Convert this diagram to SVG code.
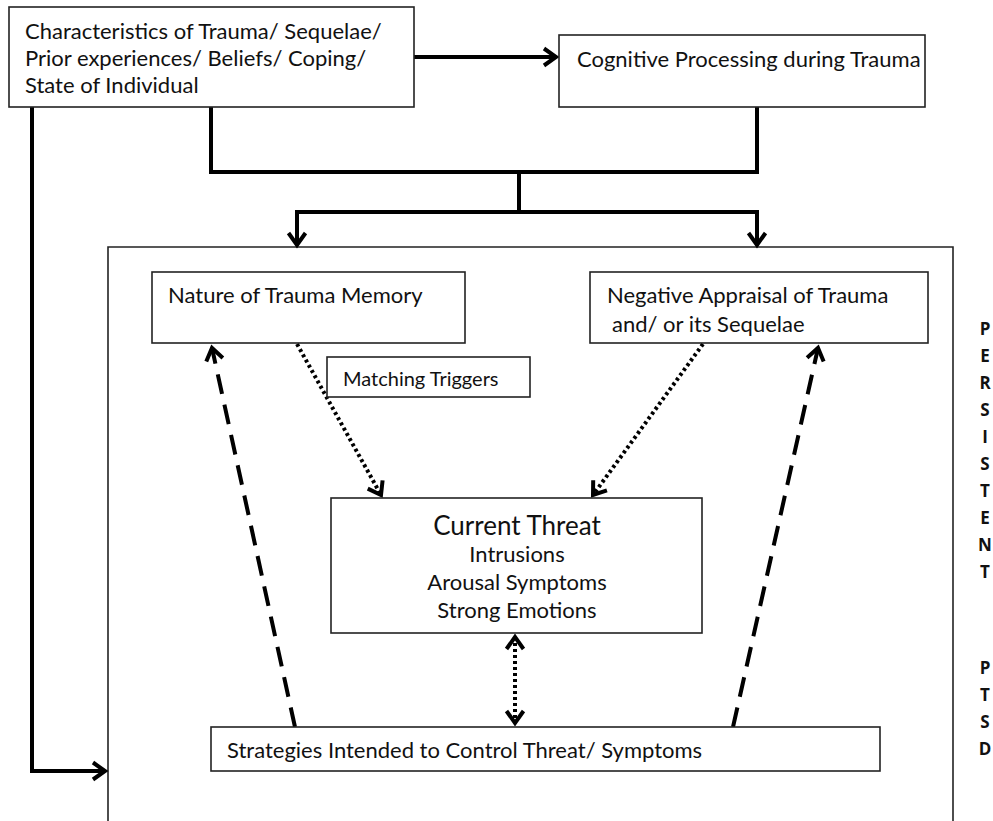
<svg xmlns="http://www.w3.org/2000/svg" width="993" height="821" viewBox="0 0 993 821">
<style>
.box{fill:#fff;stroke:#222;stroke-width:1.6}
.frame{fill:none;stroke:#222;stroke-width:1.6}
.t{font-family:Lato,"Open Sans",sans-serif;font-size:22px;fill:#111}
.big{font-size:26px}
.sm{font-size:20px}
.side{font-family:"Open Sans","Liberation Sans",sans-serif;font-size:17px;font-weight:bold;fill:#111;text-anchor:middle}
.conn{fill:none;stroke:#000;stroke-width:4;stroke-linejoin:miter}
.dot{fill:none;stroke:#000;stroke-width:4;stroke-dasharray:3 3}
.dash{fill:none;stroke:#000;stroke-width:4;stroke-dasharray:20 11}
</style>
<defs>
<marker id="ah" markerUnits="userSpaceOnUse" markerWidth="30" markerHeight="30" viewBox="-15 -15 30 30" refX="0" refY="0" orient="auto-start-reverse">
<path d="M -12 -8.5 L 0 0 L -12 8.5" fill="none" stroke="#000" stroke-width="4" stroke-dasharray="none" stroke-linecap="butt"/>
</marker>
</defs>
<rect x="0" y="0" width="993" height="821" fill="#fff"/>

<g id="frame">
<path class="frame" d="M108,821 L108,247 L953,247 L953,821"/>
</g>

<g id="connectors">
<line class="conn" x1="414" y1="57" x2="556" y2="57" marker-end="url(#ah)"/>
<path class="conn" d="M211,107 L211,172 L757,172 L757,107"/>
<line class="conn" x1="519" y1="172" x2="519" y2="212"/>
<path class="conn" d="M297,245 L297,212 L757,212 L757,245" marker-start="url(#ah)" marker-end="url(#ah)"/>
<path class="conn" d="M32,107 L32,771 L105,771" marker-end="url(#ah)"/>
<line class="dot" x1="297" y1="344" x2="381" y2="495" marker-end="url(#ah)"/>
<line class="dot" x1="703" y1="344" x2="593" y2="495" marker-end="url(#ah)"/>
<line class="dot" x1="515" y1="637" x2="515" y2="723" marker-start="url(#ah)" marker-end="url(#ah)"/>
<line class="dash" x1="295" y1="727" x2="212" y2="348" marker-end="url(#ah)"/>
<line class="dash" x1="733" y1="727" x2="818" y2="348" marker-end="url(#ah)"/>
</g>

<g id="node-characteristics">
<rect class="box" x="9" y="7" width="405" height="100"/>
<text class="t" x="25" y="39">Characteristics of Trauma/ Sequelae/</text>
<text class="t" x="25" y="66">Prior experiences/ Beliefs/ Coping/</text>
<text class="t" x="25" y="93">State of Individual</text>
</g>

<g id="node-cognitive">
<rect class="box" x="559" y="35" width="366" height="72"/>
<text class="t" x="577" y="67">Cognitive Processing during Trauma</text>
</g>

<g id="node-nature">
<rect class="box" x="152" y="272" width="313" height="71"/>
<text class="t" x="168" y="303">Nature of Trauma Memory</text>
</g>

<g id="node-negative">
<rect class="box" x="590" y="272" width="338" height="71"/>
<text class="t" x="607" y="303">Negative Appraisal of Trauma</text>
<text class="t" x="612" y="332">and/ or its Sequelae</text>
</g>

<g id="node-matching">
<rect class="box" x="327" y="357" width="203" height="40"/>
<text class="t sm" x="343" y="386">Matching Triggers</text>
</g>

<g id="node-current">
<rect class="box" x="331" y="498" width="371" height="135"/>
<text class="t big" x="517" y="535" text-anchor="middle">Current Threat</text>
<text class="t" x="517" y="562" text-anchor="middle">Intrusions</text>
<text class="t" x="517" y="590" text-anchor="middle">Arousal Symptoms</text>
<text class="t" x="517" y="618" text-anchor="middle">Strong Emotions</text>
</g>

<g id="node-strategies">
<rect class="box" x="211" y="727" width="669" height="44"/>
<text class="t" x="227" y="758">Strategies Intended to Control Threat/ Symptoms</text>
</g>

<g id="label-persistent">
<text class="side"><tspan x="985" y="335">P</tspan><tspan x="985" y="362">E</tspan><tspan x="985" y="389">R</tspan><tspan x="985" y="416">S</tspan><tspan x="985" y="443">I</tspan><tspan x="985" y="470">S</tspan><tspan x="985" y="497">T</tspan><tspan x="985" y="524">E</tspan><tspan x="985" y="551">N</tspan><tspan x="985" y="578">T</tspan></text>
</g>
<g id="label-ptsd">
<text class="side"><tspan x="985" y="674">P</tspan><tspan x="985" y="701">T</tspan><tspan x="985" y="728">S</tspan><tspan x="985" y="755">D</tspan></text>
</g>
</svg>
